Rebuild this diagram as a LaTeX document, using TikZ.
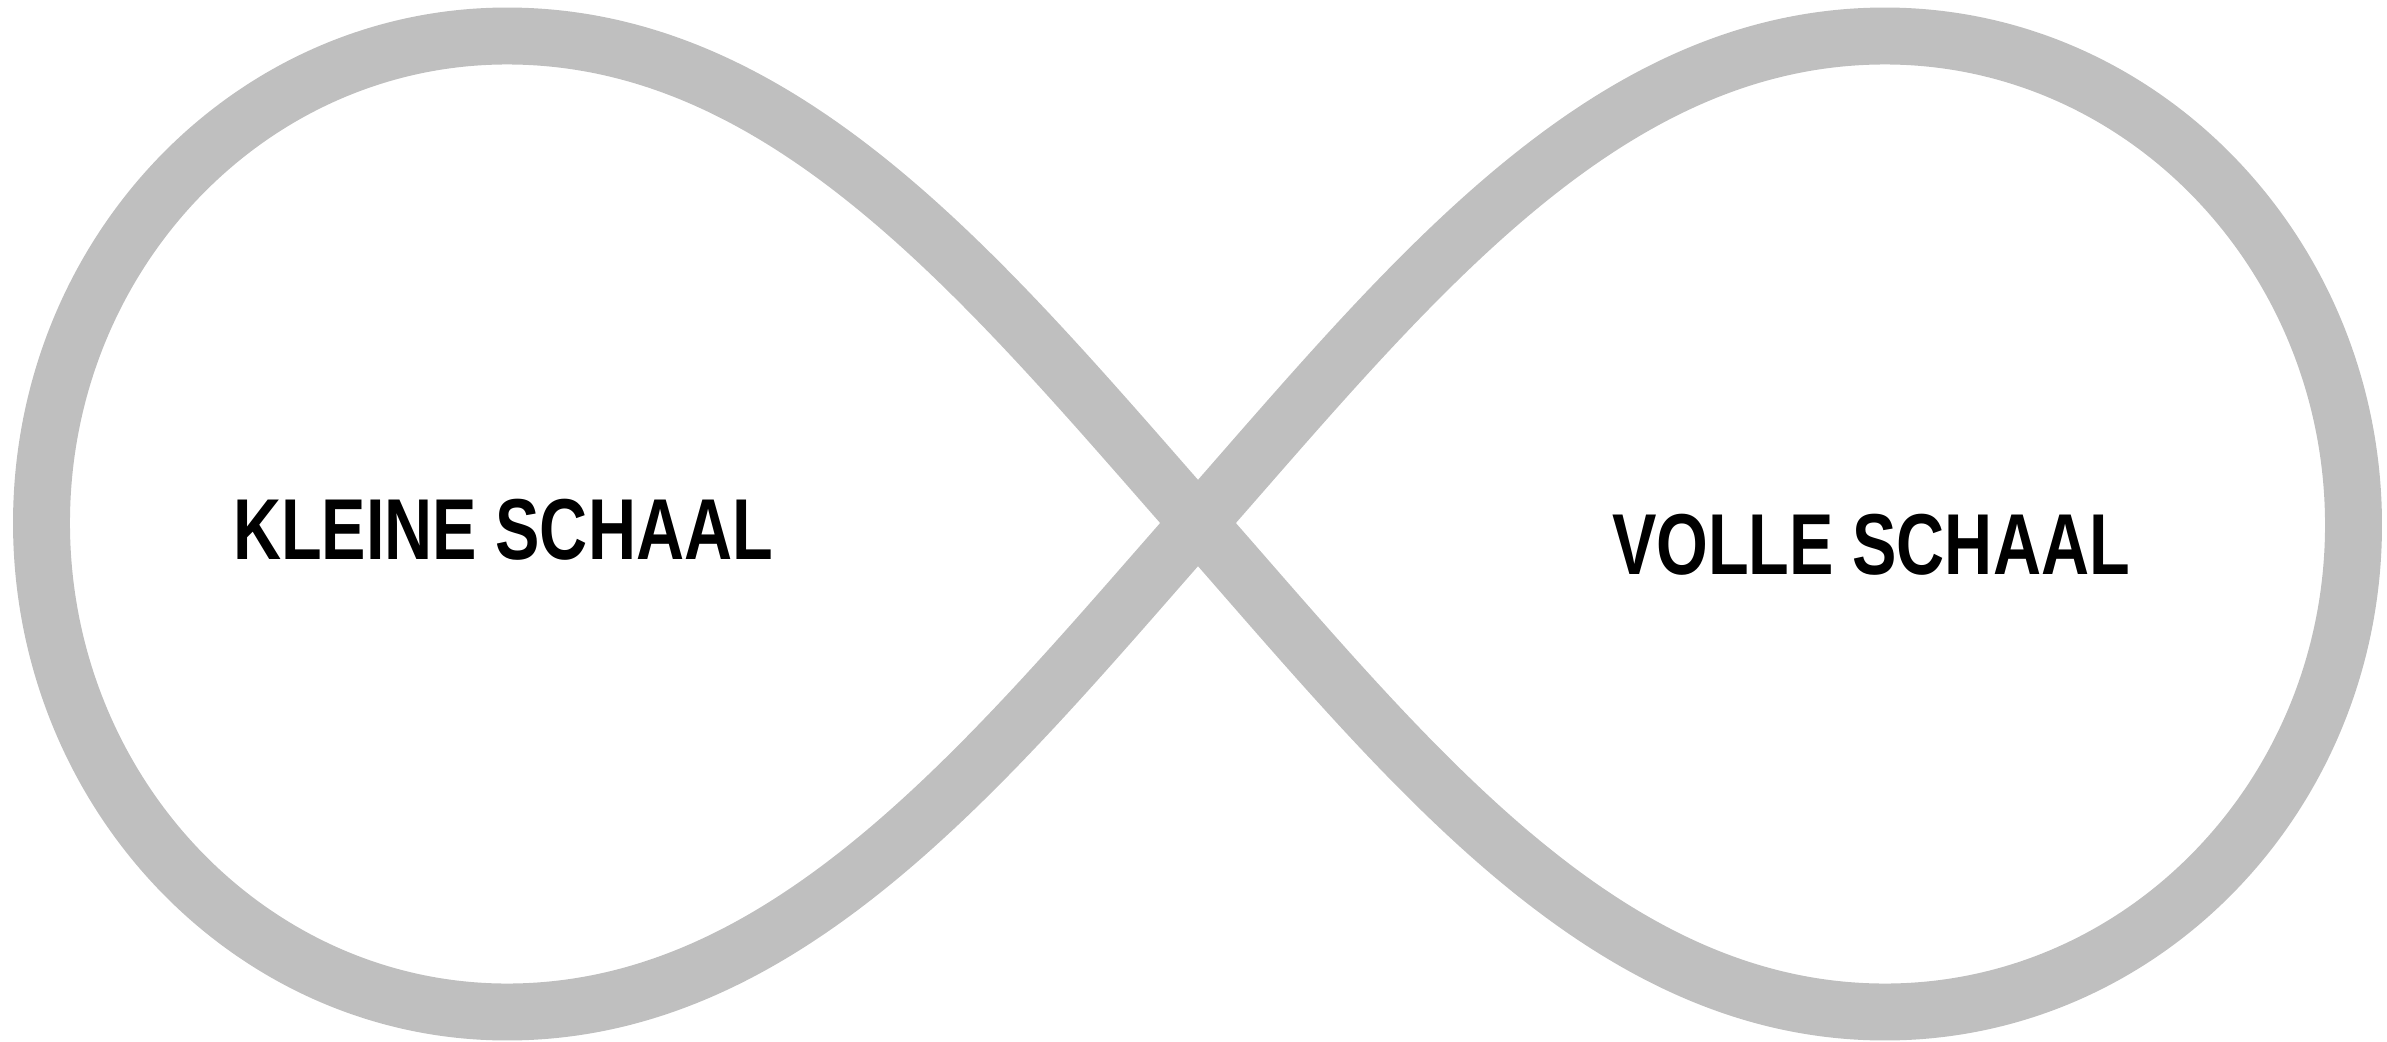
\documentclass[tikz,border=0pt]{standalone}
\usepackage{fontspec}
\newfontfamily\narrowfont[FakeStretch=0.77]{Liberation Sans}
\usetikzlibrary{positioning}
\definecolor{bandgray}{RGB}{191,191,191}
\tikzset{
  band/.style     = {draw=bandgray, line width=16.2pt, line join=round},
  loopname/.style = {font=\narrowfont\bfseries\fontsize{24.6}{30}\selectfont,
                     inner sep=0pt, text=black},
}

\begin{document}
\begin{tikzpicture}
\useasboundingbox (0,0) rectangle (23.87,10.41);
\coordinate (x)  at (11.98,5.18);
\coordinate (t1) at (5.07,10.05);
\coordinate (l)  at (0.415,5.18);
\coordinate (b1) at (5.07,0.29);
\coordinate (t2) at (18.85,10.05);
\coordinate (r)  at (23.535,5.16);
\coordinate (b2) at (18.85,0.29);

% the band
\draw[band] (x) .. controls +(-2.11,2.40) and +(2.80,0) .. (t1)
  .. controls +(-2.57,0) and +(0,2.69) .. (l)
  .. controls +(0,-2.69) and +(-2.57,0) .. (b1)
  .. controls +(2.80,0) and +(-2.11,-2.40) .. (x)
  .. controls +(2.11,2.40) and +(-2.80,0) .. (t2)
  .. controls +(2.59,0) and +(0,2.69) .. (r)
  .. controls +(0,-2.69) and +(2.59,0) .. (b2)
  .. controls +(-2.80,0) and +(2.11,-2.40) .. (x);

\node[loopname] (klein) at (5.03,5.11) {KLEINE SCHAAL};
\node[loopname] (vol) at (18.71,4.96) {VOLLE SCHAAL};
\end{tikzpicture}
\end{document}
